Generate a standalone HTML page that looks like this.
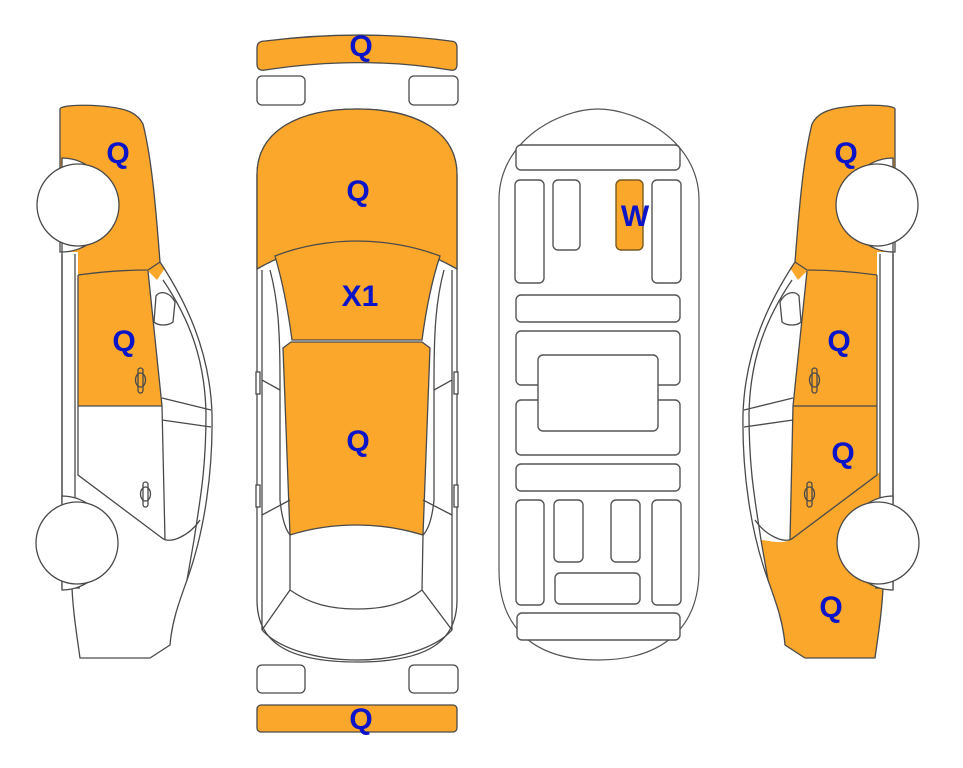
<!DOCTYPE html>
<html><head><meta charset="utf-8"><style>
html,body{margin:0;padding:0;background:#fff;}
svg{display:block;}
text{font-family:"Liberation Sans",Arial,sans-serif;font-weight:bold;fill:#0c14c8;font-size:30px;text-anchor:middle;}
</style></head><body>
<svg width="963" height="768" viewBox="0 0 963 768" xmlns="http://www.w3.org/2000/svg">
<defs>
<path id="sil" d="M60,109 C60,105 90,104 110,107 C128,109 138,114 143,124 C152,160 156,210 160,262 C185,300 210,350 212,414 C213,470 205,530 187,580 C180,600 172,620 170,645 L150,658 L80,658 C76,630 73,610 72,588 L62,588 L62,252 L60,252 L60,160 Z"/>
<g id="lines" fill="none" stroke="#4a4a4a" stroke-width="1.3">
<use href="#sil"/>
<path d="M78,275 C100,272 125,270 148,270 L160,262"/>
<path d="M148,271 L162,406 L165,540"/>
<path d="M78,406 L162,406"/>
<path d="M78,275 L78,475 L162,538 C170,545 190,535 200,520"/>
<path d="M62,254 L62,500 M75,254 L75,498"/>
<path d="M163,280 C190,320 205,360 206,414 C206,470 200,500 194,540 L187,580"/>
<path d="M162,398 L211,410 M162,420 L211,427"/>
<path d="M156,296 C160,290 170,292 175,302 L173,322 C168,326 158,326 154,322 Z" fill="#fff"/>
<rect x="138" y="368" width="5" height="25" rx="2.5"/>
<ellipse cx="140.5" cy="380" rx="5" ry="7"/>
<rect x="143" y="482" width="5" height="25" rx="2.5"/>
<ellipse cx="145.5" cy="494" rx="5" ry="7"/>
<path d="M72,588 L80,588"/>
</g>
<g id="wheels" stroke="#4a4a4a" stroke-width="1.3" fill="#fff">
<path d="M62,158 A47,47 0 0 1 62,252 Z"/>
<circle cx="78" cy="205" r="41"/>
<path d="M62,496 A47,47 0 0 1 62,590 Z"/>
<circle cx="77" cy="543" r="41"/>
</g>
</defs>

<g>
<use href="#sil" fill="#fff"/>
<path fill="#faa72b" d="M60,109 C60,105 90,104 110,107 C128,109 138,114 143,124 C152,160 156,210 160,262 L165,268 L157,280 L148,271 C125,271 100,272 78,275 L78,252 L62,252 L60,160 Z"/>
<path fill="#faa72b" d="M78,275 C100,272 125,270 148,270 L162,406 L78,406 Z"/>
<use href="#lines"/>
<use href="#wheels"/>
</g>

<g transform="translate(955,0) scale(-1,1)">
<use href="#sil" fill="#fff"/>
<path fill="#faa72b" d="M60,109 C60,105 90,104 110,107 C128,109 138,114 143,124 C152,160 156,210 160,262 L165,268 L157,280 L148,271 C125,271 100,272 78,275 L78,252 L62,252 L60,160 Z"/>
<path fill="#faa72b" d="M78,275 C100,272 125,270 148,270 L162,406 L165,540 L78,475 Z"/>
<path fill="#faa72b" d="M75,472 L162,538 C172,546 188,540 194,540 L187,580 C180,600 172,620 170,645 L150,658 L80,658 C76,630 73,610 72,588 L62,588 L62,498 L75,498 Z"/>
<use href="#lines"/>
<use href="#wheels"/>
</g>

<g stroke="#4a4a4a" stroke-width="1.3">
<path fill="#faa72b" d="M257,48 C257,43 260,41 265,41 C330,33 390,33 450,41 C455,41 457,43 457,48 L457,64 C457,69 455,71 450,70 C390,60 330,60 265,70 C260,71 257,69 257,64 Z"/>
<rect x="257" y="76" width="48" height="29" rx="5" fill="#fff"/>
<rect x="409" y="76" width="49" height="29" rx="5" fill="#fff"/>
<rect x="257" y="665" width="48" height="28" rx="5" fill="#fff"/>
<rect x="409" y="665" width="49" height="28" rx="5" fill="#fff"/>
<rect x="257" y="705" width="200" height="27" rx="4" fill="#faa72b"/>
<path fill="#fff" d="M257,175 C257,130 300,109 357,109 C414,109 457,130 457,175 L457,600 C457,640 430,662 357,662 C284,662 257,640 257,600 Z"/>
<path fill="#faa72b" d="M257,175 C257,130 300,109 357,109 C414,109 457,130 457,175 L457,269 C420,248 390,242 357,242 C324,242 294,248 257,269 Z"/>
<path fill="#faa72b" d="M275,256 C300,246 330,241 357,241 C384,241 414,246 440,256 C432,280 426,310 422,340 L292,340 C288,310 282,280 275,256 Z"/>
<path fill="#faa72b" d="M283,348 L291,342 L422,342 L430,348 L423,535 C400,528 380,525 357,525 C334,525 312,528 290,535 Z"/>
<g fill="none">
<path d="M262,270 L262,630 M452,270 L452,630"/>
<path d="M270,270 C278,300 280,330 280,380 L280,500 C282,520 286,530 290,535"/>
<path d="M444,270 C436,300 434,330 434,380 L434,500 C432,520 428,530 423,535"/>
<path d="M262,380 L280,390 M452,380 L434,390 M262,515 L290,500 M452,515 L423,500"/>
<path d="M290,535 L290,590 C310,604 330,609 357,609 C384,609 404,604 422,590 L423,535"/>
<path d="M262,630 L290,590 M452,630 L422,590"/>
<path d="M262,630 C280,650 320,660 357,660 M452,630 C434,650 394,660 357,660"/>
</g>
<rect x="256" y="372" width="4" height="22" fill="#fff"/>
<rect x="256" y="485" width="4" height="22" fill="#fff"/>
<rect x="454" y="372" width="4" height="22" fill="#fff"/>
<rect x="454" y="485" width="4" height="22" fill="#fff"/>
</g>

<g stroke="#555" stroke-width="1.4" fill="#fff">
<path d="M499,200 C499,140 560,109 598,109 C636,109 699,140 699,200 L699,570 C699,630 660,660 598,660 C536,660 499,630 499,570 Z" stroke-width="1.2"/>
<rect x="516" y="145" width="164" height="25" rx="5"/>
<rect x="515" y="180" width="29" height="103" rx="5"/>
<rect x="553" y="180" width="27" height="70" rx="5"/>
<rect x="616" y="180" width="27" height="70" rx="5" fill="#faa72b" stroke="#7a5a20"/>
<rect x="652" y="180" width="29" height="103" rx="5"/>
<rect x="516" y="295" width="164" height="27" rx="5"/>
<rect x="516" y="331" width="164" height="54" rx="5"/>
<rect x="516" y="400" width="164" height="55" rx="5"/>
<rect x="538" y="355" width="120" height="76" rx="5"/>
<rect x="516" y="464" width="164" height="27" rx="5"/>
<rect x="516" y="500" width="28" height="105" rx="5"/>
<rect x="554" y="500" width="29" height="62" rx="5"/>
<rect x="611" y="500" width="29" height="62" rx="5"/>
<rect x="652" y="500" width="29" height="105" rx="5"/>
<rect x="555" y="573" width="85" height="31" rx="5"/>
<rect x="517" y="613" width="163" height="27" rx="5"/>
</g>

<text x="361" y="56">Q</text>
<text x="358" y="201">Q</text>
<text x="360" y="306">X1</text>
<text x="358" y="451">Q</text>
<text x="361" y="729">Q</text>
<text x="118" y="163">Q</text>
<text x="124" y="351">Q</text>
<text x="846" y="163">Q</text>
<text x="839" y="351">Q</text>
<text x="843" y="463">Q</text>
<text x="831" y="617">Q</text>
<text x="635" y="226">W</text>
</svg>
</body></html>
